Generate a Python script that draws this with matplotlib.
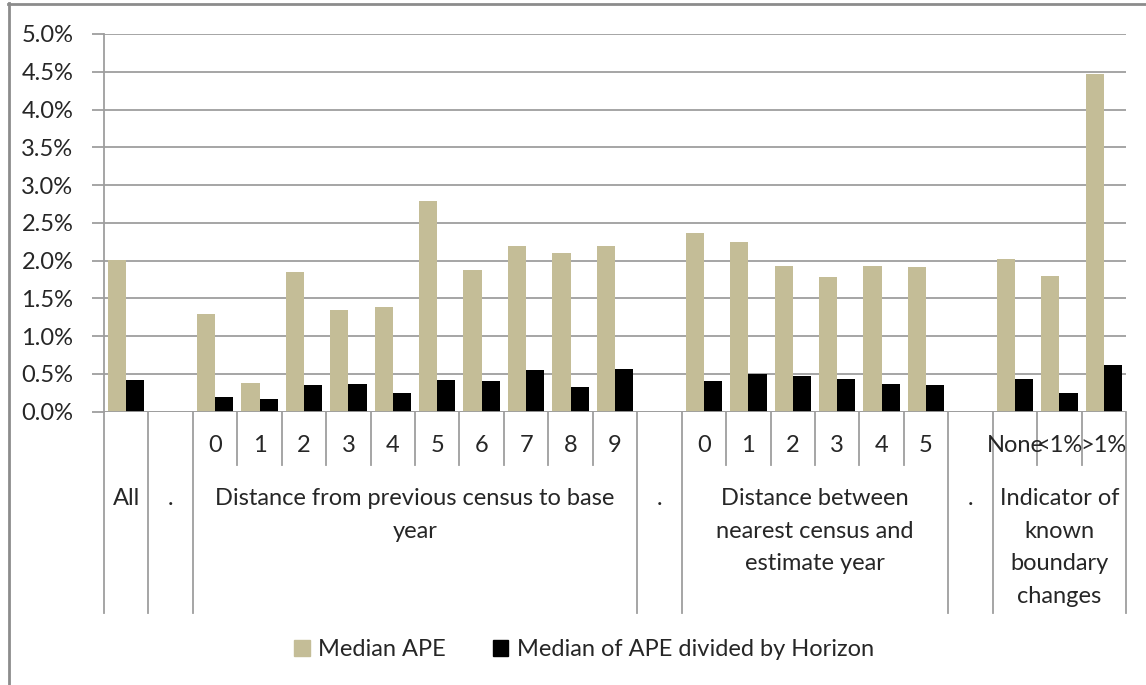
import numpy as np
import matplotlib
matplotlib.use("Agg")
import matplotlib.pyplot as plt
from matplotlib.lines import Line2D
from matplotlib.patches import Patch
from matplotlib.ticker import FuncFormatter, MultipleLocator
from matplotlib import transforms

plt.rcParams['font.family'] = ['Lato', 'DejaVu Sans']

# categories: group label and the sub label of each category
group_labels = ["All", ".", "Distance from previous census to base\nyear", ".",
                "Distance between\nnearest census and\nestimate year", ".",
                "Indicator of\nknown\nboundary\nchanges"]
group_sizes = [1, 1, 10, 1, 6, 1, 3]
sub_labels = ["", "",
              "0", "1", "2", "3", "4", "5", "6", "7", "8", "9",
              "",
              "0", "1", "2", "3", "4", "5",
              "",
              "None", "<1%", ">1%"]

# values in percent (nan = empty category)
median_ape = [2.01, np.nan,
              1.29, 0.385, 1.85, 1.35, 1.39, 2.785, 1.88, 2.19, 2.10, 2.19,
              np.nan,
              2.36, 2.24, 1.93, 1.78, 1.93, 1.915,
              np.nan,
              2.02, 1.80, 4.465]
median_ape_horizon = [0.42, np.nan,
                      0.20, 0.165, 0.35, 0.37, 0.25, 0.42, 0.40, 0.55, 0.33, 0.57,
                      np.nan,
                      0.40, 0.50, 0.47, 0.43, 0.37, 0.35,
                      np.nan,
                      0.43, 0.25, 0.62]

series_names = ["Median APE", "Median of APE divided by Horizon"]

W, H = 1146, 685
fig = plt.figure(figsize=(W / 100, H / 100), dpi=100)

def fx(px):
    return px / W

def fy(py):
    return 1 - py / H

ax = fig.add_axes([fx(104), fy(411.7), fx(1126) - fx(104), fy(34) - fy(411.7)])

tan = "#C4BD97"
grid_col = "#9E9E9E"
txt_col = "#262626"
fs = 17

x = np.arange(len(sub_labels))
bw = 0.41
ax.bar(x - bw / 2, median_ape, width=bw, color=tan, label=series_names[0], zorder=3)
ax.bar(x + bw / 2, median_ape_horizon, width=bw, color="black", label=series_names[1], zorder=3)

ax.set_xlim(-0.5, len(sub_labels) - 0.5)
ax.set_ylim(0, 5)
ax.yaxis.set_major_locator(MultipleLocator(0.5))
ax.yaxis.set_major_formatter(FuncFormatter(lambda v, p: f"{v:.1f}%"))
ax.grid(axis="y", color=grid_col, linewidth=1.3, zorder=0)
ax.tick_params(axis="y", length=9, width=1.3, color=grid_col, labelsize=fs,
               labelcolor=txt_col, pad=13)
ax.set_xticks([])
for s in ["top", "right", "bottom"]:
    ax.spines[s].set_visible(False)
ax.spines["left"].set_color(grid_col)
ax.spines["left"].set_linewidth(1.3)
ax.axhline(0, color=grid_col, linewidth=1.3, zorder=4)

# multi-level category axis drawn below the plot
tr = transforms.blended_transform_factory(ax.transData, fig.transFigure)
y0 = fy(411.7)
inner_bottom = fy(465)
group_bottom = fy(613)

starts = np.cumsum([0] + group_sizes[:-1])
for gs, size, glab in zip(starts, group_sizes, group_labels):
    left = gs - 0.5
    fig.add_artist(Line2D([left, left], [y0, group_bottom], transform=tr,
                          color=grid_col, linewidth=1.3))
    for k in range(1, size):
        xi = gs + k - 0.5
        fig.add_artist(Line2D([xi, xi], [y0, inner_bottom], transform=tr,
                              color=grid_col, linewidth=1.3))
    fig.text(gs + (size - 1) / 2, fy(488), glab, transform=tr, ha="center", va="top",
             fontsize=fs, color=txt_col, linespacing=1.69)
right = len(sub_labels) - 0.5
fig.add_artist(Line2D([right, right], [y0, group_bottom], transform=tr,
                      color=grid_col, linewidth=1.3))

for xi, lab in zip(x, sub_labels):
    if lab:
        fig.text(xi, fy(446), lab, transform=tr, ha="center", va="center",
                 fontsize=fs, color=txt_col)

# outer chart border (top and left visible)
fig.add_artist(Line2D([fx(8), 1], [fy(3.5), fy(3.5)], color="#8C8C8C", linewidth=2))
fig.add_artist(Line2D([fx(8.5), fx(8.5)], [fy(3), 0], color="#8C8C8C", linewidth=2))

handles = [Patch(color=tan), Patch(color="black")]
fig.legend(handles, series_names, loc="center", bbox_to_anchor=(fx(584), fy(650)),
           ncol=2, frameon=False, fontsize=fs, handlelength=0.65, handleheight=0.65,
           handletextpad=0.35, columnspacing=2.0, labelcolor=txt_col)

fig.savefig("out.png", dpi=100)
